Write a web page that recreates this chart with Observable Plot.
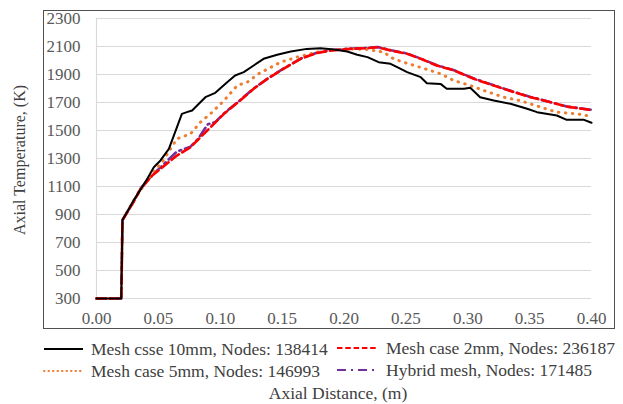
<!DOCTYPE html>
<html>
<head>
<meta charset="utf-8">
<script src="https://cdn.jsdelivr.net/npm/d3@7"></script>
<script src="https://cdn.jsdelivr.net/npm/@observablehq/plot@0.6"></script>
<style>
  body { margin: 0; background: #fff; }
  #wrap { position: relative; width: 623px; height: 404px; overflow: hidden; font-family: "Liberation Serif", "Times New Roman", serif; }
  #frame { position: absolute; left: 43px; top: 10px; width: 570px; height: 317px; border: 1.2px solid #505050; box-sizing: content-box; pointer-events: none; }
  #chart { position: absolute; left: 0; top: 0; }
  .ytitle { position: absolute; left: 20px; top: 160px; transform: translate(-50%, -50%) rotate(-90deg); white-space: nowrap; font-size: 16px; color: #404040; }
  .xtitle { position: absolute; left: 338px; top: 393px; transform: translate(-50%, -50%); white-space: nowrap; font-size: 17.5px; color: #404040; }
  .leg { position: absolute; display: flex; align-items: center; white-space: nowrap; font-size: 17.5px; color: #404040; }
  .leg svg { margin-right: 7px; }
</style>
</head>
<body>
<div id="wrap">
  <div id="chart"></div>
  <div id="frame"></div>
  <div class="ytitle" id="ytitle"></div>
  <div class="xtitle" id="xtitle"></div>
  <div id="legend"></div>
</div>
<script>
// ---- data ----
const xTicks = [0, 0.05, 0.10, 0.15, 0.20, 0.25, 0.30, 0.35, 0.40];
const yTicks = [300, 500, 700, 900, 1100, 1300, 1500, 1700, 1900, 2100, 2300];
const xTitle = "Axial Distance, (m)";
const yTitle = "Axial Temperature, (K)";
const seriesNames = [
  "Mesh csse 10mm, Nodes: 138414",
  "Mesh case 2mm, Nodes: 236187",
  "Mesh case 5mm, Nodes: 146993",
  "Hybrid mesh, Nodes: 171485"
];

const mesh10mm = [
  [0,300],[0.02,300],[0.021,860],[0.03,1000],[0.04,1140],[0.0463,1238],[0.0517,1286],[0.0585,1369],
  [0.069,1619],[0.073,1631],[0.0773,1643],[0.0827,1691],[0.088,1738],[0.096,1769],[0.1056,1845],
  [0.112,1893],[0.119,1917],[0.127,1964],[0.135,2012],[0.146,2041],[0.157,2064],[0.170,2083],
  [0.181,2088],[0.192,2079],[0.2026,2064],[0.2107,2041],[0.219,2024],[0.228,1988],[0.2376,1976],
  [0.243,1952],[0.251,1917],[0.262,1881],[0.267,1838],[0.278,1833],[0.283,1798],[0.297,1798],
  [0.302,1805],[0.310,1738],[0.321,1714],[0.3345,1691],[0.348,1655],[0.356,1631],[0.372,1607],
  [0.380,1576],[0.394,1576],[0.400,1555]
];
const mesh2mm = [
  [0,300],[0.02,300],[0.021,860],[0.03,990],[0.0356,1084],[0.045,1178],[0.065,1321],[0.076,1381],
  [0.0895,1500],[0.103,1619],[0.116,1714],[0.127,1798],[0.138,1869],[0.151,1940],[0.165,2012],
  [0.178,2053],[0.189,2071],[0.205,2083],[0.219,2088],[0.227,2095],[0.238,2071],[0.251,2048],
  [0.262,2012],[0.275,1964],[0.289,1929],[0.305,1869],[0.321,1821],[0.3373,1774],[0.3507,1738],
  [0.367,1702],[0.380,1671],[0.400,1645]
];
const mesh5mm = [
  [0,300],[0.02,300],[0.021,860],[0.03,1000],[0.0436,1178],[0.053,1274],[0.065,1441],[0.076,1476],
  [0.084,1559],[0.0935,1631],[0.103,1714],[0.1137,1821],[0.1218,1845],[0.131,1905],[0.1487,1988],
  [0.162,2024],[0.178,2060],[0.192,2076],[0.205,2083],[0.219,2079],[0.232,2060],[0.240,2012],
  [0.248,1988],[0.262,1950],[0.278,1905],[0.2887,1857],[0.302,1821],[0.313,1786],[0.329,1738],
  [0.342,1714],[0.359,1667],[0.3717,1631],[0.3885,1619],[0.400,1600]
];
const hybridMesh = [
  [0,300],[0.02,300],[0.021,860],[0.03,995],[0.0356,1086],[0.045,1180],[0.058,1290],[0.065,1350],
  [0.076,1385],[0.082,1440],[0.090,1545],[0.096,1560],[0.103,1622],[0.116,1716],[0.127,1800],
  [0.139,1875],[0.151,1942],[0.165,2014],[0.178,2055],[0.189,2073],[0.205,2085],[0.219,2090],
  [0.227,2097],[0.238,2073],[0.251,2050],[0.262,2014],[0.275,1966],[0.289,1930],[0.305,1871],
  [0.321,1823],[0.3373,1776],[0.3507,1740],[0.367,1702],[0.380,1671],[0.400,1648]
];

const colors = ["#000000", "#ff0000", "#ed7d31", "#7030a0"];

// ---- chart ----
const px = d => d[0], py = d => d[1];
const chart = Plot.plot({
  width: 623,
  height: 335,
  marginLeft: 96,
  marginRight: 32,
  marginTop: 18,
  marginBottom: 37,
  style: { fontFamily: "Liberation Serif, Times New Roman, serif", fontSize: "17px", color: "#595959", background: "transparent" },
  x: { domain: [0, 0.4] },
  y: { domain: [300, 2300] },
  marks: [
    Plot.gridY(yTicks, { stroke: "#d9d9d9", strokeOpacity: 1, strokeWidth: 1.2 }),
    Plot.ruleX([0], { stroke: "#d9d9d9", strokeWidth: 1.2 }),
    Plot.axisY({ ticks: yTicks, tickSize: 0, tickPadding: 16, label: null, tickFormat: d3.format("d") }),
    Plot.axisX({ ticks: xTicks, tickSize: 0, tickPadding: 13, label: null, tickFormat: d3.format(".2f") }),
    Plot.line(hybridMesh, { x: px, y: py, stroke: colors[3], strokeWidth: 2.6, strokeDasharray: "10,4,2,4" }),
    Plot.line(mesh5mm, { x: px, y: py, stroke: colors[2], strokeWidth: 3, strokeDasharray: "0.5,6.5", strokeLinecap: "round" }),
    Plot.line(mesh2mm, { x: px, y: py, stroke: colors[1], strokeWidth: 2.6, strokeDasharray: "9,4" }),
    Plot.line(mesh10mm, { x: px, y: py, stroke: colors[0], strokeWidth: 2 })
  ]
});
document.getElementById("chart").appendChild(chart);

document.getElementById("ytitle").textContent = yTitle;
document.getElementById("xtitle").textContent = xTitle;

// ---- legend ----
const legendPos = [
  { left: 43, top: 349 },
  { left: 336, top: 348 },
  { left: 43, top: 371 },
  { left: 336, top: 370 }
];
const swatchDash = [null, "5.5,2.8", "0.5,4", "9,5,2,5"];
const swatchWidth = [2, 2, 2, 2];
const legend = document.getElementById("legend");
seriesNames.forEach((name, i) => {
  const div = document.createElement("div");
  div.className = "leg";
  div.style.left = legendPos[i].left + "px";
  div.style.top = (legendPos[i].top - 11) + "px";
  div.style.height = "22px";
  const w = i === 1 || i === 3 ? 43 : 41;
  const dash = swatchDash[i] ? `stroke-dasharray="${swatchDash[i]}"` : "";
  const cap = i === 2 ? `stroke-linecap="round"` : "";
  div.innerHTML = `<svg width="${w}" height="6"><line x1="1" x2="${w - 1}" y1="3" y2="3" stroke="${colors[i]}" stroke-width="${swatchWidth[i]}" ${dash} ${cap}/></svg><span>${name}</span>`;
  legend.appendChild(div);
});
</script>
</body>
</html>
